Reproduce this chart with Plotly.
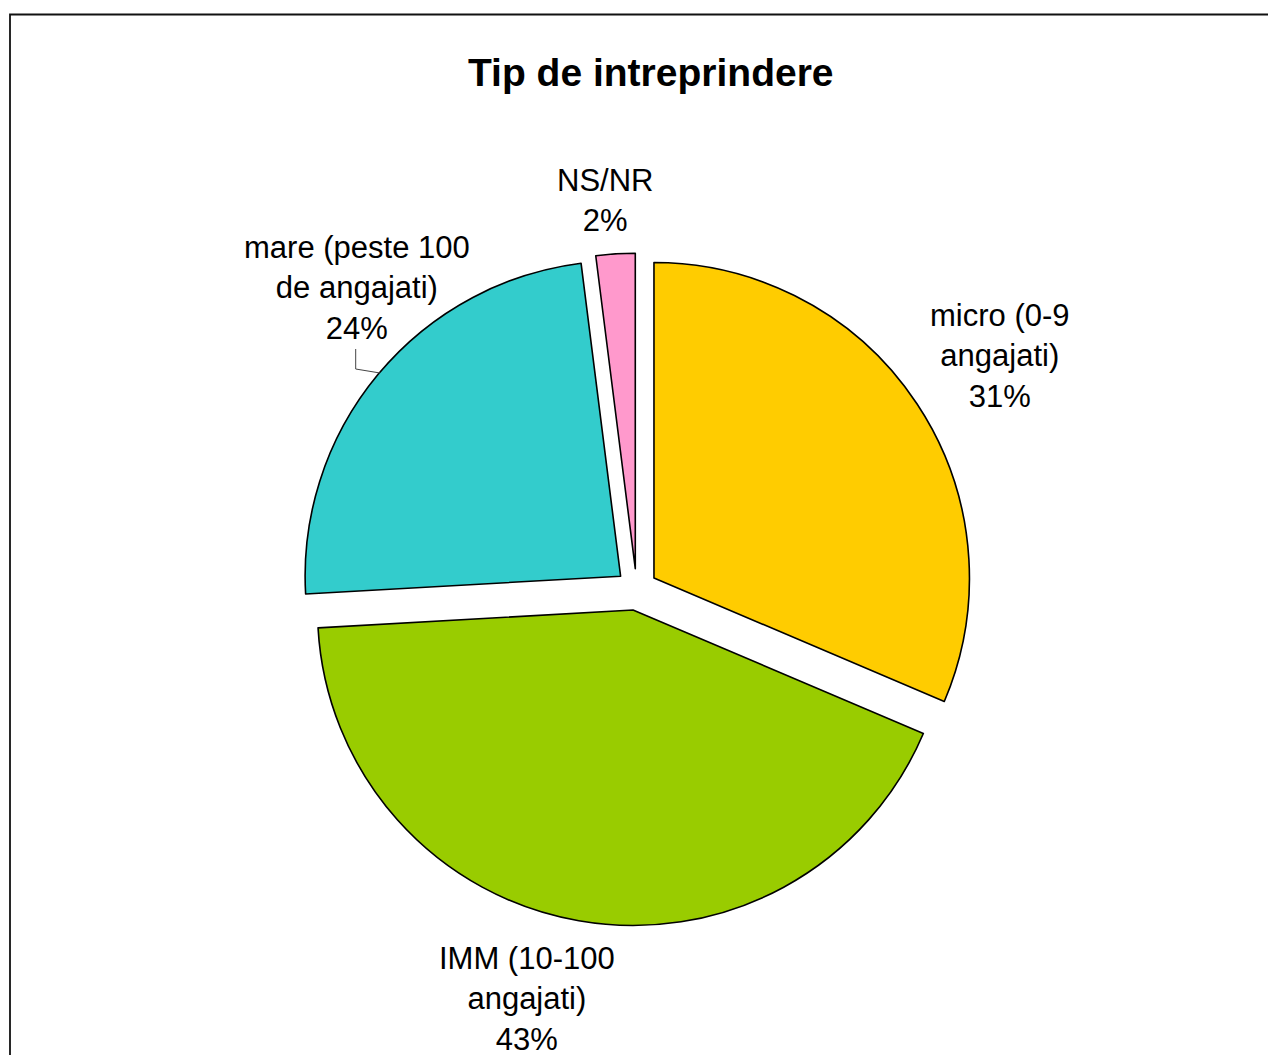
import plotly.graph_objects as go

# ---- data ----
categories = ["micro (0-9<br>angajati)", "IMM (10-100<br>angajati)",
              "mare (peste 100<br>de angajati)", "NS/NR"]
values = [31.4, 42.7, 23.9, 2.0]
colors = ["#FFCC00", "#99CC00", "#33CCCC", "#FF99CC"]
title_text = "Tip de intreprindere"

W, H = 1276, 1055
OFF = 8  # page body margin offset
FONT = "Liberation Sans, Arial, sans-serif"

# layout positions (pixels) for the outside labels
label_px = [(1000, 356), (527, 999), (357, 288), (605, 200)]

def px(x):
    return (x - OFF) / W

def py(y):
    return 1 - (y - OFF) / H

total = sum(values)
pct = [round(v / total * 100) for v in values]

fig = go.Figure(go.Pie(
    labels=categories,
    values=values,
    sort=False,
    direction="clockwise",
    rotation=0,
    pull=[0.066] * len(values),
    marker=dict(colors=colors, line=dict(color="black", width=1.6)),
    textinfo="none",
    hoverinfo="label+percent",
    domain=dict(x=[px(300.3), px(972.9)], y=[py(925.8), py(253.2)]),
    showlegend=False,
))

annotations = [dict(
    text="<b>" + title_text + "</b>", x=px(651), y=py(73), xref="paper", yref="paper",
    xanchor="center", yanchor="middle", showarrow=False,
    font=dict(family=FONT, size=39, color="black"))]

for cat, p, (lx, ly) in zip(categories, pct, label_px):
    annotations.append(dict(
        text=f"{cat}<br>{p}%", x=px(lx), y=py(ly), xref="paper", yref="paper",
        xanchor="center", yanchor="middle", showarrow=False, align="center",
        font=dict(family=FONT, size=31, color="black")))

shapes = [
    dict(type="rect", xref="paper", yref="paper",
         x0=px(10), y0=-0.05, x1=1.05, y1=py(14.5),
         line=dict(color="#111111", width=1.8), fillcolor="rgba(0,0,0,0)", layer="below"),
    dict(type="path", xref="paper", yref="paper",
         path=f"M {px(355.7)} {py(349)} L {px(355.7)} {py(369)} L {px(380)} {py(373)}",
         line=dict(color="#444444", width=1)),
]

fig.update_layout(
    width=W, height=H, autosize=False,
    margin=dict(l=0, r=0, t=0, b=0),
    paper_bgcolor="white", plot_bgcolor="white",
    annotations=annotations, shapes=shapes,
)

fig.write_html("out.html")
